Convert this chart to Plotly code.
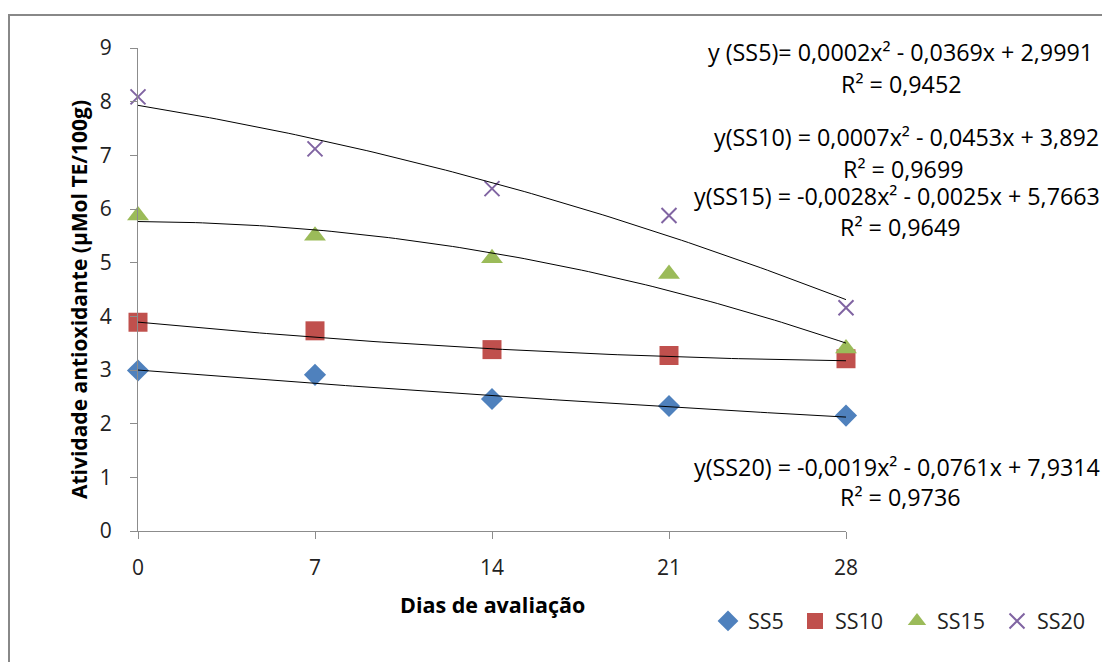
import numpy as np
import plotly.graph_objects as go

dias = [0, 7, 14, 21, 28]
ss5 = [2.99, 2.91, 2.46, 2.33, 2.15]
ss10 = [3.89, 3.73, 3.38, 3.27, 3.21]
ss15 = [5.88, 5.50, 5.08, 4.79, 3.40]
ss20 = [8.09, 7.12, 6.38, 5.88, 4.16]

# trendline coefficients (a, b, c) of a*x^2 + b*x + c, as printed on the chart
coef_ss5 = [0.0002, -0.0369, 2.9991]
coef_ss10 = [0.0007, -0.0453, 3.8920]
coef_ss15 = [-0.0028, -0.0025, 5.7663]
coef_ss20 = [-0.0019, -0.0761, 7.9314]

eq_texts = [
    "y (SS5)= 0,0002x² - 0,0369x + 2,9991",
    "y(SS10) = 0,0007x² - 0,0453x + 3,892",
    "y(SS15) = -0,0028x² - 0,0025x + 5,7663",
    "y(SS20) = -0,0019x² - 0,0761x + 7,9314",
]
r2_texts = ["R² = 0,9452", "R² = 0,9699", "R² = 0,9649", "R² = 0,9736"]

FONT = "Open Sans"
W, H = 1102, 662
L, R, T, B = 138, 256, 48, 131
pw, ph = W - L - R, H - T - B

def px(x):
    return (x - L) / pw

def py(y):
    return (H - B - y) / ph

fig = go.Figure()

series = [
    ("SS5", ss5, "diamond", 17, "#4F81BD"),
    ("SS10", ss10, "square", 19, "#C0504D"),
    ("SS15", ss15, "triangle-up", 19, "#9BBB59"),
    ("SS20", ss20, "x-thin", 15, "#8064A2"),
]
legend_names = ["legend", "legend2", "legend3", "legend4"]
for (name, vals, sym, size, col), lg in zip(series, legend_names):
    mk = dict(symbol=sym, size=size, color=col, line=dict(width=0))
    if sym == "x-thin":
        mk["line"] = dict(width=2, color=col)
    fig.add_trace(go.Scatter(x=dias, y=vals, mode="markers", name=name,
                             marker=mk, cliponaxis=False, legend=lg))

xs = np.linspace(0, 28, 100)
for coef in [coef_ss5, coef_ss10, coef_ss15, coef_ss20]:
    ys = np.polyval(coef, xs)
    fig.add_trace(go.Scatter(x=xs, y=ys, mode="lines", showlegend=False,
                             line=dict(color="black", width=1), hoverinfo="skip",
                             cliponaxis=False))

EQ_SIZE = 23.3
eq_pos = [(706, 52, 84, 901), (712, 137, 169, 903), (692, 196, 227, 900), (692, 467, 497, 900)]
anns = []
for (x0, ye, yr, xc), et, rt in zip(eq_pos, eq_texts, r2_texts):
    anns.append(dict(x=px(x0), y=py(ye), xref="paper", yref="paper", text=et,
                     showarrow=False, xanchor="left", yanchor="middle",
                     font=dict(family=FONT, size=EQ_SIZE, color="black")))
    anns.append(dict(x=px(xc), y=py(yr), xref="paper", yref="paper", text=rt,
                     showarrow=False, xanchor="center", yanchor="middle",
                     font=dict(family=FONT, size=EQ_SIZE, color="black")))

anns.append(dict(x=px(492), y=py(604), xref="paper", yref="paper",
                 text="<b>Dias de avaliação</b>", showarrow=False,
                 xanchor="center", yanchor="middle",
                 font=dict(family=FONT, size=21.5, color="black")))
anns.append(dict(x=px(79), y=py(300), xref="paper", yref="paper",
                 text="<b>Atividade antioxidante (µMol TE/100g)</b>", showarrow=False,
                 xanchor="center", yanchor="middle", textangle=-90,
                 font=dict(family=FONT, size=21, color="black")))

axis_common = dict(showgrid=False, zeroline=False, showline=True, linecolor="#8C8C8C",
                   linewidth=1, ticks="outside", tickcolor="#8C8C8C", ticklen=7,
                   tickwidth=1, tickfont=dict(family=FONT, size=21, color="#222222"))

legend_x = [708, 795, 897, 997]
legend_layout = {}
for lg, lx in zip(legend_names, legend_x):
    legend_layout[lg] = dict(orientation="h", x=px(lx), y=py(621), xanchor="left",
                             yanchor="middle", bgcolor="rgba(0,0,0,0)", itemwidth=30,
                             font=dict(family=FONT, size=21.5, color="#222222"))

fig.update_layout(
    width=W, height=H,
    margin=dict(l=L, r=R, t=T, b=B, autoexpand=False),
    plot_bgcolor="white", paper_bgcolor="white",
    xaxis=dict(range=[0, 28], tickvals=dias, ticklabelstandoff=11, **axis_common),
    yaxis=dict(range=[0, 9], dtick=1, ticklabelstandoff=14, **axis_common),
    showlegend=True,
    annotations=anns,
    shapes=[dict(type="rect", xref="paper", yref="paper", x0=px(9), x1=px(1120),
                 y0=py(680), y1=py(15), line=dict(color="#888888", width=2),
                 fillcolor="rgba(0,0,0,0)", layer="below")],
    **legend_layout,
)

fig.write_html("out.html")
